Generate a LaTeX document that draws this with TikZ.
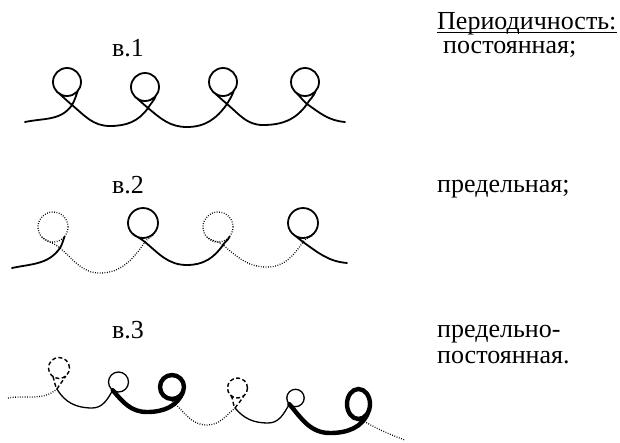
\documentclass[tikz,border=0pt]{standalone}
\usepackage{fontspec}
\setmainfont{Liberation Serif}
\usetikzlibrary{calc}
\newcommand\mkloop[6]{%
  \coordinate (#1o) at (#2,-#3);
  \coordinate (#1c) at (#5,-#6);
  \coordinate (#1r) at ($(#1o)+(-40:#4)$);
  \coordinate (#1l) at ($(#1o)+(222:#4)$);}
\begin{document}
\begin{tikzpicture}[x=1pt,y=1pt,
  ln/.style={line width=1.8pt,line cap=round},
  dotln/.style={line width=1.3pt,dash pattern=on 0.8pt off 1.6pt},
  dashln/.style={line width=1.4pt,dash pattern=on 4pt off 2.5pt},
  thinln/.style={line width=1.3pt,line cap=round},
  thickln/.style={line width=4.4pt,line cap=round},
  txt/.style={inner sep=0pt,anchor=base west,font=\fontsize{26}{31}\selectfont}]
\useasboundingbox (0,0) rectangle (620,-442);
% ---------- labels
\node[txt] (h) at (437,-29) {Периодичность:};
\draw[line width=1.1pt] ([yshift=-3.5pt]h.base west) -- ([yshift=-3.5pt]h.base east);
\node[txt] (p1) at (443,-53) {постоянная;};
\node[txt] (p2) at (437,-192) {предельная;};
\node[txt] (p3) at (437,-337) {предельно-};
\node[txt] (p4) at (437,-363) {постоянная.};
\node[txt] (n1) at (112,-56) {в.1};
\node[txt] (n2) at (112,-193) {в.2};
\node[txt] (n3) at (112,-338) {в.3};
% ---------- row 1
\mkloop{pa}{67}{82}{14}{72}{105}
\mkloop{pb}{145}{87}{14}{148}{108}
\mkloop{pc}{223}{82}{14}{227}{104}
\mkloop{pd}{305}{82}{14}{307}{104}
\coordinate (av0) at (25,-122);
\coordinate (av1) at (110,-126);
\coordinate (av2) at (187,-127);
\coordinate (av3) at (263,-125);
\coordinate (av4) at (345,-122);
\draw[ln] (av0) to[out=12,in=235] (pac) to[out=60,in=250] (par)
  (pao) circle[radius=14]
  (pal) to[out=-40,in=140] (pac) to[out=-40,in=180] (av1) to[out=0,in=235] (pbc) to[out=60,in=250] (pbr)
  (pbo) circle[radius=14]
  (pbl) to[out=-40,in=140] (pbc) to[out=-40,in=180] (av2) to[out=0,in=235] (pcc) to[out=60,in=250] (pcr)
  (pco) circle[radius=14]
  (pcl) to[out=-40,in=140] (pcc) to[out=-40,in=180] (av3) to[out=0,in=235] (pdc) to[out=60,in=250] (pdr)
  (pdo) circle[radius=14]
  (pdl) to[out=-40,in=140] (pdc) to[out=-35,in=175] (av4);
% ---------- row 2
\mkloop{qa}{53}{227}{15}{60}{248}
\mkloop{qb}{143}{223}{15}{145}{242}
\mkloop{qc}{218}{227}{15}{223}{245}
\mkloop{qd}{303}{223}{15}{303}{242}
\coordinate (bv0) at (12,-268);
\coordinate (bv1) at (100,-273);
\coordinate (bv2) at (187,-265);
\coordinate (bv3) at (267,-267);
\coordinate (bv4) at (347,-263);
\draw[ln] (bv0) to[out=12,in=235] (qac) to[out=60,in=250] (qar);
\draw[dotln] (qao) circle[radius=15]
  (qal) to[out=-40,in=140] (qac) to[out=-40,in=180] (bv1) to[out=0,in=235] (qbc) to[out=60,in=250] (qbr);
\draw[ln] (qbo) circle[radius=15]
  (qbl) to[out=-40,in=140] (qbc) to[out=-40,in=180] (bv2) to[out=0,in=235] (qcc) to[out=60,in=250] (qcr);
\draw[dotln] (qco) circle[radius=15]
  (qcl) to[out=-40,in=140] (qcc) to[out=-40,in=180] (bv3) to[out=0,in=235] (qdc) to[out=60,in=250] (qdr);
\draw[ln] (qdo) circle[radius=15]
  (qdl) to[out=-40,in=140] (qdc) to[out=-35,in=175] (bv4);
% ---------- row 3
\coordinate (ro1) at (59,-368);
\coordinate (rc1) at (57,-389);
\coordinate (rr1) at ($(ro1)+(-50:10.5)$);
\coordinate (rl1) at ($(ro1)+(235:10.5)$);
\coordinate (rv0) at (8,-398);
\coordinate (rv1) at (92,-408);
\coordinate (ro2) at (118.5,-382);
\coordinate (ra2) at ($(ro2)+(235:10)$);
\coordinate (rv2) at (147,-412);
\coordinate (ro3) at (172,-387);
\coordinate (rr3) at ($(ro3)+(-20:12)$);
\coordinate (rb3) at (170,-400);
\coordinate (rv3) at (207,-425);
\coordinate (ro4) at (237.5,-388);
\coordinate (rc4) at (235,-408);
\coordinate (rr4) at ($(ro4)+(-50:10)$);
\coordinate (rl4) at ($(ro4)+(230:10)$);
\coordinate (rv4) at (268,-423);
\coordinate (ro5) at (295.5,-398);
\coordinate (ra5) at ($(ro5)+(225:8.7)$);
\coordinate (rv5) at (330,-433);
\coordinate (ro6) at (358.5,-404);
\coordinate (rr6) at (368.5,-411.5);
\coordinate (rb6) at (360,-419);
\coordinate (rv6) at (405,-440);
\draw[dotln] (rv0) to[out=10,in=220] (rc1);
\draw[dashln] (rc1) to[out=60,in=240] (rr1) (ro1) circle[radius=10.5]
  (rl1) to[out=-70,in=120] (rc1);
\draw[thinln] (rc1) to[out=-60,in=180] (rv1) to[out=0,in=240] (ra2)
  (ro2) circle[radius=10];
\draw[thickln] (ra2) to[out=-50,in=180] (rv2) to[out=0,in=250] (rr3)
  (ro3) circle[radius=12];
\draw[dotln] (rb3) to[out=-35,in=180] (rv3) to[out=0,in=220] (rc4);
\draw[dashln] (rc4) to[out=55,in=240] (rr4) (ro4) circle[radius=10]
  (rl4) to[out=-60,in=120] (rc4);
\draw[thinln] (rc4) to[out=-50,in=180] (rv4) to[out=0,in=240] (ra5)
  (ro5) circle[radius=8.7];
\draw[thickln] (ra5) to[out=-50,in=180] (rv5) to[out=0,in=250] (rr6)
  (ro6) ellipse[x radius=11.5,y radius=15];
\draw[dotln] (rb6) to[out=-30,in=160] (rv6);
\end{tikzpicture}
\end{document}
